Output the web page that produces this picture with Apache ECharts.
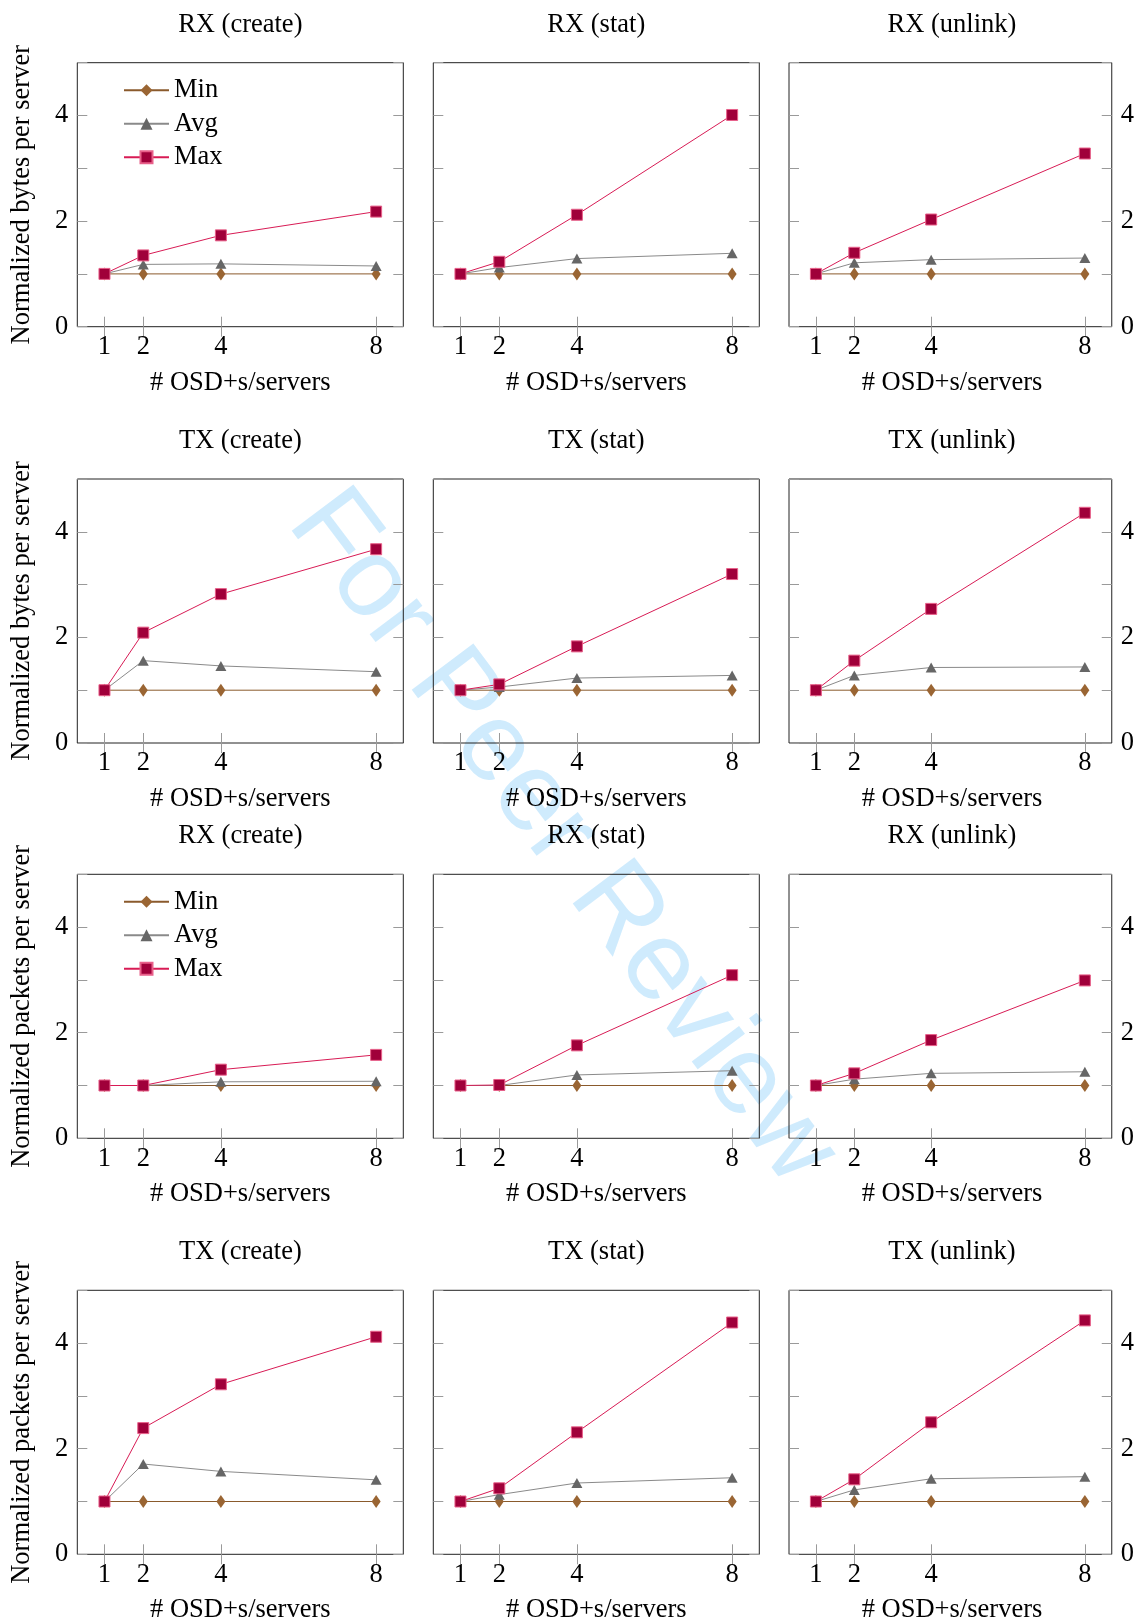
<!DOCTYPE html>
<html><head><meta charset="utf-8">
<script src="https://cdn.jsdelivr.net/npm/echarts@6/dist/echarts.min.js"></script>
<style>html,body{margin:0;padding:0;background:#fff}#c{width:1137px;height:1623px}</style>
</head><body><div id="c"></div><script>
// ---------- data ----------
const servers = [1, 2, 4, 8];
const yTickValues = [0, 1, 2, 3, 4, 5];
const yLabelValues = [0, 2, 4];
const seriesNames = ['Min', 'Avg', 'Max'];
const rowTitles = [
  ['RX (create)', 'RX (stat)', 'RX (unlink)'],
  ['TX (create)', 'TX (stat)', 'TX (unlink)'],
  ['RX (create)', 'RX (stat)', 'RX (unlink)'],
  ['TX (create)', 'TX (stat)', 'TX (unlink)']
];
const rowYLabels = ['Normalized bytes per server', 'Normalized bytes per server',
                    'Normalized packets per server', 'Normalized packets per server'];
const xLabel = '# OSD+s/servers';

// Row 1: RX bytes
const rxBytesCreateMin = [1, 1, 1, 1];
const rxBytesCreateAvg = [1, 1.18, 1.19, 1.15];
const rxBytesCreateMax = [1, 1.35, 1.73, 2.18];
const rxBytesStatMin = [1, 1, 1, 1];
const rxBytesStatAvg = [1, 1.12, 1.29, 1.39];
const rxBytesStatMax = [1, 1.23, 2.12, 4.01];
const rxBytesUnlinkMin = [1, 1, 1, 1];
const rxBytesUnlinkAvg = [1, 1.21, 1.27, 1.30];
const rxBytesUnlinkMax = [1, 1.40, 2.03, 3.28];
// Row 2: TX bytes
const txBytesCreateMin = [1, 1, 1, 1];
const txBytesCreateAvg = [1, 1.56, 1.46, 1.35];
const txBytesCreateMax = [1, 2.09, 2.82, 3.67];
const txBytesStatMin = [1, 1, 1, 1];
const txBytesStatAvg = [1, 1.06, 1.23, 1.28];
const txBytesStatMax = [1, 1.11, 1.83, 3.20];
const txBytesUnlinkMin = [1, 1, 1, 1];
const txBytesUnlinkAvg = [1, 1.28, 1.43, 1.44];
const txBytesUnlinkMax = [1, 1.56, 2.54, 4.36];
// Row 3: RX packets
const rxPacketsCreateMin = [1, 1, 1, 1];
const rxPacketsCreateAvg = [1, 1.0, 1.07, 1.08];
const rxPacketsCreateMax = [1, 1.0, 1.30, 1.58];
const rxPacketsStatMin = [1, 1, 1, 1];
const rxPacketsStatAvg = [1, 1.0, 1.20, 1.28];
const rxPacketsStatMax = [1, 1.01, 1.76, 3.09];
const rxPacketsUnlinkMin = [1, 1, 1, 1];
const rxPacketsUnlinkAvg = [1, 1.12, 1.23, 1.26];
const rxPacketsUnlinkMax = [1, 1.23, 1.86, 2.99];
// Row 4: TX packets
const txPacketsCreateMin = [1, 1, 1, 1];
const txPacketsCreateAvg = [1, 1.71, 1.57, 1.41];
const txPacketsCreateMax = [1, 2.39, 3.22, 4.12];
const txPacketsStatMin = [1, 1, 1, 1];
const txPacketsStatAvg = [1, 1.13, 1.35, 1.45];
const txPacketsStatMax = [1, 1.25, 2.31, 4.39];
const txPacketsUnlinkMin = [1, 1, 1, 1];
const txPacketsUnlinkAvg = [1, 1.22, 1.43, 1.47];
const txPacketsUnlinkMax = [1, 1.42, 2.50, 4.43];

const panels = [
  [[rxBytesCreateMin, rxBytesCreateAvg, rxBytesCreateMax], [rxBytesStatMin, rxBytesStatAvg, rxBytesStatMax], [rxBytesUnlinkMin, rxBytesUnlinkAvg, rxBytesUnlinkMax]],
  [[txBytesCreateMin, txBytesCreateAvg, txBytesCreateMax], [txBytesStatMin, txBytesStatAvg, txBytesStatMax], [txBytesUnlinkMin, txBytesUnlinkAvg, txBytesUnlinkMax]],
  [[rxPacketsCreateMin, rxPacketsCreateAvg, rxPacketsCreateMax], [rxPacketsStatMin, rxPacketsStatAvg, rxPacketsStatMax], [rxPacketsUnlinkMin, rxPacketsUnlinkAvg, rxPacketsUnlinkMax]],
  [[txPacketsCreateMin, txPacketsCreateAvg, txPacketsCreateMax], [txPacketsStatMin, txPacketsStatAvg, txPacketsStatMax], [txPacketsUnlinkMin, txPacketsUnlinkAvg, txPacketsUnlinkMax]]
];

// ---------- layout & style ----------
const FONT = "'Liberation Serif','Times New Roman',serif";
const FS = 26.5;
const colLeft = [77.3, 433.3, 789];
const rowTop = [62.7, 479, 874.3, 1290.3];
const PW = 326, PH = 264;
const styles = [
  { line: '#8a5a2c', fill: '#9a6533', symbol: 'diamond', size: [9, 13] },
  { line: '#8a8a8a', fill: '#666666', symbol: 'triangle', size: [11, 10] },
  { line: '#d81b55', fill: '#a0003a', symbol: 'rect', size: 11, border: '#e8608a' }
];
const tickStyle = { color: '#9a9a9a', width: 1 };

const grid = [], xAxis = [], yAxis = [], series = [], graphic = [], legend = [];
for (let r = 0; r < 4; r++) {
  for (let c = 0; c < 3; c++) {
    const idx = r * 3 + c;
    grid.push({ left: colLeft[c], top: rowTop[r], width: PW, height: PH, show: true,
      borderColor: '#222', borderWidth: 1, backgroundColor: 'transparent' });
    const xBase = { gridIndex: idx, type: 'value', min: 0.3, max: 8.7,
      axisLine: { show: false }, splitLine: { show: false },
      axisTick: { show: true, inside: true, length: 10, customValues: servers, lineStyle: tickStyle } };
    xAxis.push(Object.assign({}, xBase, { position: 'bottom',
      axisLabel: { show: true, customValues: servers, margin: 7, fontFamily: FONT, fontSize: FS, color: '#000' } }));
    xAxis.push(Object.assign({}, xBase, { position: 'top', axisLabel: { show: false } }));
    const yBase = { gridIndex: idx, type: 'value', min: 0, max: 5, interval: 1,
      axisLine: { show: false }, splitLine: { show: false },
      axisTick: { show: true, inside: true, length: 10, lineStyle: tickStyle } };
    const lab = (show) => ({ show: show, margin: 9, fontFamily: FONT, fontSize: FS, color: '#000',
      formatter: v => (yLabelValues.indexOf(v) >= 0 ? String(v) : '') });
    yAxis.push(Object.assign({}, yBase, { position: 'left', axisLabel: lab(c === 0) }));
    yAxis.push(Object.assign({}, yBase, { position: 'right', axisLabel: lab(c === 2) }));

    panels[r][c].forEach((vals, k) => {
      const st = styles[k];
      series.push({ type: 'line', name: seriesNames[k], xAxisIndex: idx * 2, yAxisIndex: idx * 2,
        data: servers.map((s, i) => [s, vals[i]]), animation: false,
        symbol: st.symbol, symbolSize: st.size, showSymbol: true, z: 2 + k,
        lineStyle: { color: st.line, width: 1 },
        itemStyle: { color: st.fill, borderColor: st.border || st.fill, borderWidth: st.border ? 1 : 0, opacity: 1 } });
    });

    const cx = colLeft[c] + PW / 2;
    graphic.push({ type: 'text', x: cx, y: rowTop[r] - 38,
      style: { text: rowTitles[r][c], font: FS + 'px ' + FONT, fill: '#000', textAlign: 'center', textVerticalAlign: 'middle' } });
    graphic.push({ type: 'text', x: cx, y: rowTop[r] + PH + 56,
      style: { text: xLabel, font: FS + 'px ' + FONT, fill: '#000', textAlign: 'center', textVerticalAlign: 'middle' } });
    if (c === 0) {
      graphic.push({ type: 'text', x: 22, y: rowTop[r] + PH / 2, rotation: Math.PI / 2,
        style: { text: rowYLabels[r], font: FS + 'px ' + FONT, fill: '#000', textAlign: 'center', textVerticalAlign: 'middle' } });
    }
  }
  if (r === 0 || r === 2) {
    legend.push({ left: 123, top: rowTop[r] + 14, orient: 'vertical', selectedMode: false, padding: 0,
      itemWidth: 45, itemHeight: 15, itemGap: 6.5, data: seriesNames,
      textStyle: { fontFamily: FONT, fontSize: FS, lineHeight: 26, color: '#000' } });
  }
}
graphic.unshift({ type: 'text', x: 562, y: 838, rotation: -0.925, z: -10,
  style: { text: 'For Peer Review', font: '112px "Liberation Sans", Arial, sans-serif',
    fill: 'rgba(135,206,250,0.4)', textAlign: 'center', textVerticalAlign: 'middle' } });

const chart = echarts.init(document.getElementById('c'), null, { renderer: 'canvas' });
chart.setOption({ backgroundColor: '#fff', animation: false, grid, xAxis, yAxis, series, legend, graphic });
</script></body></html>
